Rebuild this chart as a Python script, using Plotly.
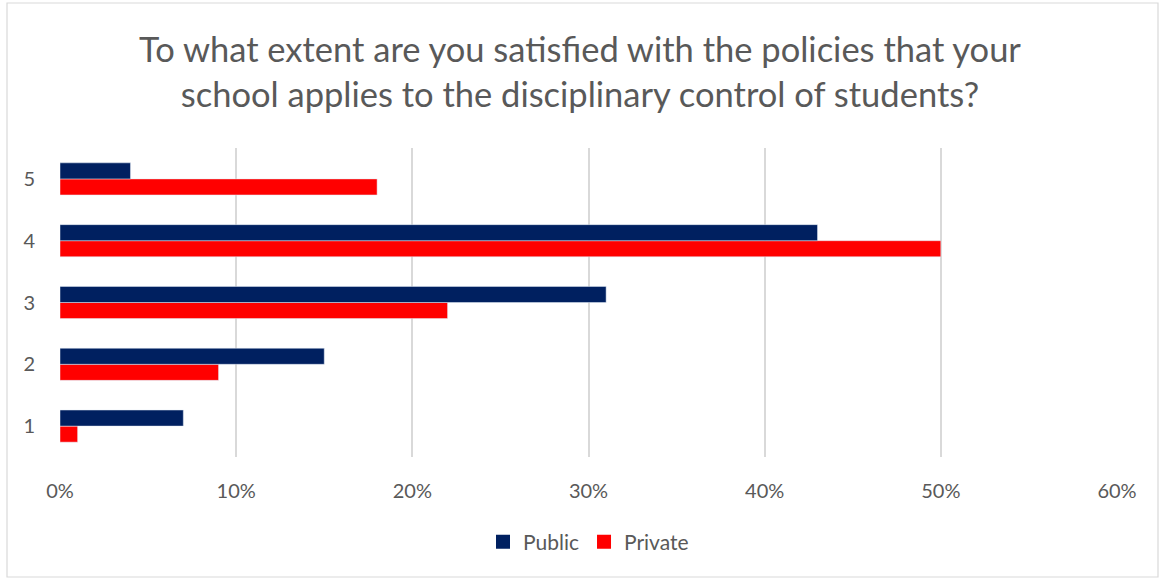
import plotly.graph_objects as go

# Survey responses by satisfaction level (1 = lowest, 5 = highest)
levels = ["1", "2", "3", "4", "5"]
public_pct = [7, 15, 31, 43, 4]
private_pct = [1, 9, 22, 50, 18]
x_ticks = [0, 10, 20, 30, 40, 50, 60]
x_tick_labels = ["0%", "10%", "20%", "30%", "40%", "50%", "60%"]

series_names = ["Public", "Private"]
series_colors = ["#002060", "#FF0000"]

W, H = 1160, 579
L, R, T, B = 60, 43, 148, 122
pw, ph = W - L - R, H - T - B

fig = go.Figure()
# Private first so that Public sits on top within each group
fig.add_trace(go.Bar(
    y=levels, x=private_pct, name="Private", orientation="h",
    marker=dict(color=series_colors[1]), showlegend=False,
))
fig.add_trace(go.Bar(
    y=levels, x=public_pct, name="Public", orientation="h",
    marker=dict(color=series_colors[0]), showlegend=False,
))
# Larger square legend keys
for name, color in zip(series_names, series_colors):
    fig.add_trace(go.Scatter(
        x=[None], y=[None], mode="markers", name=name,
        marker=dict(symbol="square", size=14, color=color),
    ))

fig.update_layout(
    width=W, height=H,
    margin=dict(l=L, r=R, t=T, b=B),
    paper_bgcolor="white", plot_bgcolor="white",
    barmode="group", bargap=0.48, bargroupgap=0,
    font=dict(family="Lato, 'Open Sans', sans-serif", color="#595959"),
    title=dict(
        text="To what extent are you satisfied with the policies that your<br>school applies to the disciplinary control of students?",
        x=0.5, xanchor="center", y=1 - 62 / H, yanchor="middle",
        font=dict(size=34.5, color="#595959"),
    ),
    xaxis=dict(
        range=[0, 60], tickvals=x_ticks, ticktext=x_tick_labels,
        showgrid=True, gridcolor="#D9D9D9", gridwidth=1.5,
        zeroline=False, showline=False, ticks="",
        tickfont=dict(size=20, color="#595959"), ticklabelstandoff=20,
    ),
    yaxis=dict(
        type="category", categoryorder="array", categoryarray=levels,
        showgrid=False, zeroline=False, showline=False, ticks="",
        tickfont=dict(size=20, color="#595959"), ticklabelstandoff=24,
    ),
    legend=dict(
        orientation="h", x=0.5, xanchor="center",
        y=-(542 - (T + ph)) / ph, yanchor="middle",
        font=dict(size=21, color="#595959"),
        itemwidth=30,
    ),
    shapes=[dict(
        type="rect", xref="paper", yref="paper",
        x0=(7 - L) / pw, x1=(1158 - L) / pw,
        y0=1 + (T - 3) / ph, y1=-(H - 2 - T - ph) / ph,
        line=dict(color="#D9D9D9", width=1.2), fillcolor="rgba(0,0,0,0)",
        layer="below",
    )],
)

fig.write_html("out.html")
